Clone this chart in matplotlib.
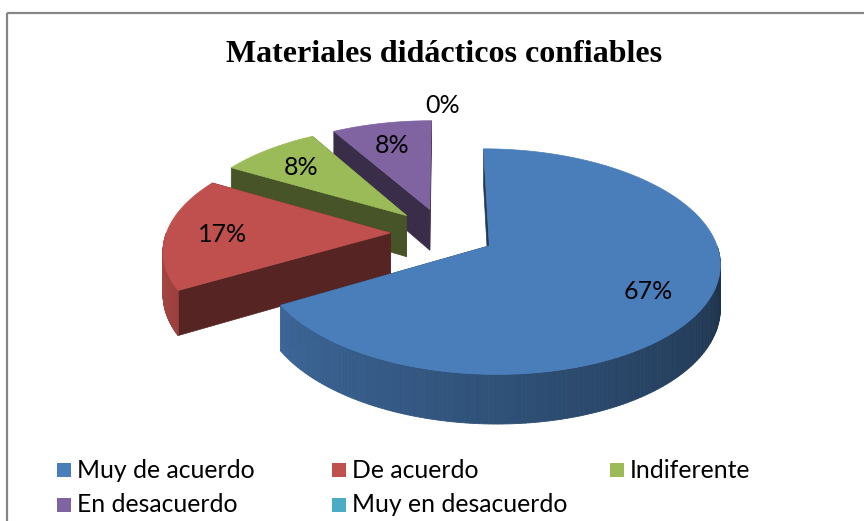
import numpy as np
import matplotlib
matplotlib.use('Agg')
import matplotlib.pyplot as plt
from matplotlib.patches import Polygon, Rectangle
from matplotlib.colors import to_rgb

title = 'Materiales didácticos confiables'
categories = ['Muy de acuerdo', 'De acuerdo', 'Indiferente', 'En desacuerdo', 'Muy en desacuerdo']
counts = [8, 2, 1, 1, 0]
colors = ['#4A7EBB', '#C0504D', '#9BBB59', '#8064A2', '#4BACC6']

# 3d pie layout (pixel space)
CX, CY = 443, 233
S, SB, H = 224, 107, 42
PERSP = 0.138
EXPLODE = 0.235
LAB_R = 0.75

def proj(u, v, z=0.0):
    d = 1 + PERSP * v
    return CX + S * u / d, CY + (-SB * v + H * z) / d

def shade(c, f):
    r, g, b = to_rgb(c)
    return (r * f, g * f, b * f)

fig = plt.figure(figsize=(8.64, 5.21), dpi=100)
ax = fig.add_axes([0, 0, 1, 1])
ax.set_xlim(0, 864); ax.set_ylim(521, 0); ax.axis('off')

# chart border (top + left only visible)
ax.plot([7, 870], [13, 13], color='#868686', lw=1.6, solid_capstyle='butt')
ax.plot([7, 7], [13, 530], color='#868686', lw=1.6, solid_capstyle='butt')

ax.text(444, 54, title, ha='center', va='center', fontsize=23, fontweight='bold',
        family='Liberation Serif')

total = sum(counts)
cum = np.concatenate([[0], np.cumsum(counts)])
slices = []
for i, c in enumerate(counts):
    t1 = 90 - cum[i] * 360 / total      # ccw end
    t2 = 90 - cum[i + 1] * 360 / total  # cw end
    m = np.radians((t1 + t2) / 2)
    u0, v0 = EXPLODE * np.cos(m), EXPLODE * np.sin(m)
    slices.append((i, c, np.radians(t2), np.radians(t1), m, u0, v0))

# back to front
for i, c, a2, a1, m, u0, v0 in reversed(slices):
    if c == 0:
        continue
    col = colors[i]
    # radial faces
    for a in (a2, a1):
        pts = [proj(u0, v0, 0), proj(u0 + np.cos(a), v0 + np.sin(a), 0),
               proj(u0 + np.cos(a), v0 + np.sin(a), 1), proj(u0, v0, 1)]
        ax.add_patch(Polygon(pts, closed=True, fc=shade(col, 0.45), ec=shade(col, 0.45), lw=0.5))
    # outer curved side, front half only, with shading
    ts = np.linspace(a2, a1, 240)
    ts = ts[np.sin(ts) < 0.0]
    for k in range(len(ts) - 1):
        ta, tb = ts[k], ts[k + 1]
        ang = np.degrees((ta + tb) / 2) % 360
        f = 0.9 - 0.52 * (ang - 180) / 180
        pts = [proj(u0 + np.cos(ta), v0 + np.sin(ta), 0), proj(u0 + np.cos(tb), v0 + np.sin(tb), 0),
               proj(u0 + np.cos(tb), v0 + np.sin(tb), 1), proj(u0 + np.cos(ta), v0 + np.sin(ta), 1)]
        ax.add_patch(Polygon(pts, closed=True, fc=shade(col, f), ec=shade(col, f), lw=0.6))
    # top
    arc = np.linspace(a2, a1, 200)
    pts = [proj(u0, v0)] + [proj(u0 + np.cos(t), v0 + np.sin(t)) for t in arc]
    ax.add_patch(Polygon(pts, closed=True, fc=col, ec=col, lw=0.5))

# data labels
for i, c, a2, a1, m, u0, v0 in slices:
    r = LAB_R if c > 0 else 1.22
    x, y = proj(u0 + r * np.cos(m), v0 + r * np.sin(m))
    ax.text(x, y + 2, f'{round(100 * c / total)}%', ha='center', va='center',
            fontsize=18, family='Lato', color='black')

# legend
leg_x = [57, 332, 610]
leg_y = [470, 505]
for i, name in enumerate(categories):
    x, y = leg_x[i % 3], leg_y[i // 3]
    ax.add_patch(Rectangle((x, y - 7), 14, 14, fc=colors[i], ec='none'))
    ax.text(x + 20, y, name, ha='left', va='center', fontsize=17.8, family='Lato')

fig.savefig('out.png', dpi=100)
